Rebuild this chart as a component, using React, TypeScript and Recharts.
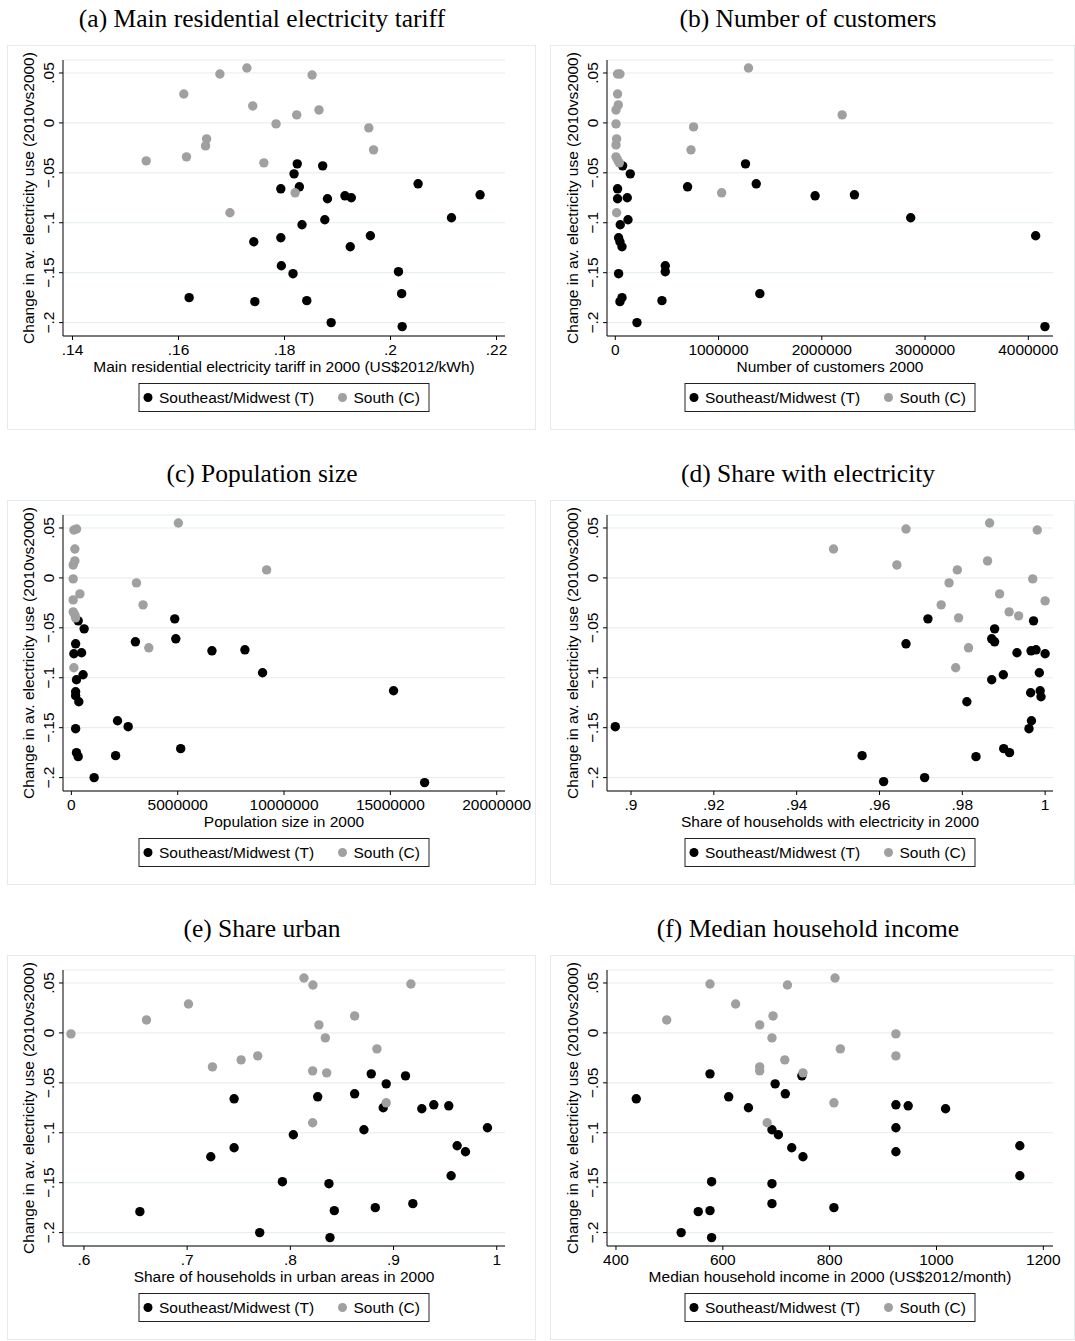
import React from "react";
import { ScatterChart, Scatter, XAxis, YAxis, CartesianGrid } from "recharts";

type Pt = [number, number];

// shared y axis
const yTicks = [-0.2, -0.15, -0.1, -0.05, 0, 0.05];
const yDomain = [-0.2134, 0.063];
const yTitle = "Change in av. electricity use (2010vs2000)";

// (a) tariff
const tariffTicks = [0.14, 0.16, 0.18, 0.2, 0.22];
const tariffT: Pt[] = [
  [0.1824, -0.041], [0.1872, -0.043], [0.1818, -0.051], [0.1828, -0.064], [0.1793, -0.066],
  [0.2052, -0.061], [0.2169, -0.072], [0.1914, -0.073], [0.1926, -0.075], [0.1881, -0.076],
  [0.1876, -0.097], [0.2115, -0.095], [0.1833, -0.102], [0.1742, -0.119], [0.1793, -0.115],
  [0.1962, -0.113], [0.1924, -0.124], [0.1794, -0.143], [0.1816, -0.151], [0.2015, -0.149],
  [0.2021, -0.171], [0.162, -0.175], [0.1744, -0.179], [0.1842, -0.178], [0.1888, -0.2],
  [0.2022, -0.204],
];
const tariffC: Pt[] = [
  [0.1729, 0.055], [0.1678, 0.049], [0.1852, 0.048], [0.161, 0.029], [0.174, 0.017],
  [0.1865, 0.013], [0.1823, 0.008], [0.1784, -0.001], [0.1959, -0.005], [0.1653, -0.016],
  [0.1651, -0.023], [0.1968, -0.027], [0.1615, -0.034], [0.1539, -0.038], [0.1761, -0.04],
  [0.182, -0.07], [0.1697, -0.09],
];

// (b) customers
const customerTicks = [0, 1000000, 2000000, 3000000, 4000000];
const customersT: Pt[] = [
  [71000, -0.043], [145000, -0.051], [1261000, -0.041], [22000, -0.066], [700000, -0.064],
  [1365000, -0.061], [1935000, -0.073], [2316000, -0.072], [22000, -0.076], [116000, -0.075],
  [123000, -0.097], [2861000, -0.095], [48000, -0.102], [32000, -0.115], [45000, -0.119],
  [65000, -0.124], [4071000, -0.113], [484000, -0.143], [484000, -0.149], [32000, -0.151],
  [1400000, -0.171], [65000, -0.175], [45000, -0.179], [452000, -0.178], [210000, -0.2],
  [4161000, -0.204],
];
const customersC: Pt[] = [
  [1290000, 0.055], [22000, 0.049], [45000, 0.049], [22000, 0.029], [29000, 0.018],
  [7000, 0.013], [7000, -0.001], [13000, -0.016], [2197000, 0.008], [758000, -0.004],
  [733000, -0.027], [7000, -0.022], [7000, -0.034], [22000, -0.037], [39000, -0.04],
  [1030000, -0.07], [13000, -0.09],
];

// (c) population
const populationTicks = [0, 5000000, 10000000, 15000000, 20000000];
const populationT: Pt[] = [
  [320000, -0.043], [600000, -0.051], [4860000, -0.041], [200000, -0.066], [3010000, -0.064],
  [4910000, -0.061], [6610000, -0.073], [8160000, -0.072], [117000, -0.076], [480000, -0.075],
  [550000, -0.097], [8990000, -0.095], [240000, -0.102], [200000, -0.114], [200000, -0.118],
  [350000, -0.124], [15150000, -0.113], [2170000, -0.143], [2670000, -0.149], [200000, -0.151],
  [5140000, -0.171], [240000, -0.175], [320000, -0.179], [2080000, -0.178], [1070000, -0.2],
  [16610000, -0.205],
];
const populationC: Pt[] = [
  [5030000, 0.055], [117000, 0.048], [244000, 0.049], [164000, 0.029], [164000, 0.017],
  [85000, 0.013], [85000, -0.001], [400000, -0.016], [9180000, 0.008], [3060000, -0.005],
  [3370000, -0.027], [85000, -0.022], [85000, -0.034], [164000, -0.037], [197000, -0.04],
  [3640000, -0.07], [117000, -0.09],
];

// (d) share with electricity
const electricityTicks = [0.9, 0.92, 0.94, 0.96, 0.98, 1];
const electricityT: Pt[] = [
  [0.9717, -0.041], [0.9664, -0.066], [0.9972, -0.043], [0.9878, -0.051], [0.9871, -0.061],
  [0.9878, -0.064], [0.9932, -0.075], [0.9966, -0.073], [0.9978, -0.072], [1.0, -0.076],
  [0.9986, -0.095], [0.9899, -0.097], [0.9871, -0.102], [0.9965, -0.115], [0.9988, -0.113],
  [0.999, -0.119], [0.9811, -0.124], [0.9967, -0.143], [0.9961, -0.151], [0.8962, -0.149],
  [0.99, -0.171], [0.9914, -0.175], [0.9558, -0.178], [0.9833, -0.179], [0.9709, -0.2],
  [0.961, -0.204],
];
const electricityC: Pt[] = [
  [0.9866, 0.055], [0.9664, 0.049], [0.9981, 0.048], [0.9489, 0.029], [0.9642, 0.013],
  [0.9861, 0.017], [0.9788, 0.008], [0.9768, -0.005], [0.997, -0.001], [0.989, -0.016],
  [1.0, -0.023], [0.9749, -0.027], [0.9913, -0.034], [0.9936, -0.038], [0.9791, -0.04],
  [0.9815, -0.07], [0.9784, -0.09],
];

// (e) share urban
const urbanTicks = [0.6, 0.7, 0.8, 0.9, 1];
const urbanT: Pt[] = [
  [0.8784, -0.041], [0.9116, -0.043], [0.8929, -0.051], [0.8623, -0.061], [0.8265, -0.064],
  [0.7455, -0.066], [0.939, -0.072], [0.9535, -0.073], [0.89, -0.075], [0.9274, -0.076],
  [0.8713, -0.097], [0.991, -0.095], [0.8029, -0.102], [0.7455, -0.115], [0.9616, -0.113],
  [0.9697, -0.119], [0.7229, -0.124], [0.9558, -0.143], [0.7923, -0.149], [0.8374, -0.151],
  [0.9187, -0.171], [0.8823, -0.175], [0.6542, -0.179], [0.8426, -0.178], [0.7703, -0.2],
  [0.8384, -0.205],
];
const urbanC: Pt[] = [
  [0.8132, 0.055], [0.8219, 0.048], [0.9168, 0.049], [0.7013, 0.029], [0.6606, 0.013],
  [0.8623, 0.017], [0.8277, 0.008], [0.5874, -0.001], [0.8339, -0.005], [0.8839, -0.016],
  [0.7684, -0.023], [0.7523, -0.027], [0.7245, -0.034], [0.8216, -0.038], [0.8352, -0.04],
  [0.8929, -0.07], [0.8216, -0.09],
];

// (f) median household income
const incomeTicks = [400, 600, 800, 1000, 1200];
const incomeT: Pt[] = [
  [576, -0.041], [748, -0.043], [698, -0.051], [717, -0.061], [611, -0.064],
  [438, -0.066], [924, -0.072], [947, -0.073], [648, -0.075], [1017, -0.076],
  [924, -0.095], [692, -0.097], [704, -0.102], [729, -0.115], [1156, -0.113],
  [924, -0.119], [750, -0.124], [1156, -0.143], [579, -0.149], [692, -0.151],
  [692, -0.171], [808, -0.175], [554, -0.179], [576, -0.178], [522, -0.2],
  [579, -0.205],
];
const incomeC: Pt[] = [
  [810, 0.055], [576, 0.049], [721, 0.048], [624, 0.029], [495, 0.013],
  [694, 0.017], [669, 0.008], [924, -0.001], [692, -0.005], [820, -0.016],
  [924, -0.023], [716, -0.027], [669, -0.034], [669, -0.038], [750, -0.04],
  [808, -0.07], [683, -0.09],
];

const SANS = "'Liberation Sans', Arial, Helvetica, sans-serif";
const SERIF = "'Liberation Serif', 'Times New Roman', serif";
const FS = 15.5;
const T_COLOR = "#000000";
const C_COLOR = "#a0a0a0";

const fmt = (v: number) => {
  if (v === 0) return "0";
  const s = String(Math.abs(v)).replace(/^0\./, ".");
  return v < 0 ? "\u2212" + s : s;
};

const XTick = (p: any) => (
  <text x={p.x} y={p.y + 13} textAnchor="middle" fontFamily={SANS} fontSize={FS} fill="#000">
    {fmt(p.payload.value)}
  </text>
);

const YTick = (p: any) => (
  <text
    transform={`translate(${p.x - 3},${p.y}) rotate(-90)`}
    textAnchor="middle"
    fontFamily={SANS}
    fontSize={FS}
    fill="#000"
  >
    {fmt(p.payload.value)}
  </text>
);

const dot = (fill: string) => (p: any) => <circle cx={p.cx} cy={p.cy} r={4.7} fill={fill} />;

interface PanelProps {
  col: number;
  row: number;
  title: string;
  xTitle: string;
  xTicks: number[];
  xDomain: number[];
  tData: Pt[];
  cData: Pt[];
}

function Panel({ col, row, title, xTitle, xTicks, xDomain, tData, cData }: PanelProps) {
  const W = 535;
  const H = 430;
  const left = col === 0 ? 0 : 540;
  const top = row * 455;
  const plotL = col === 0 ? 63 : 67;
  const plotR = col === 0 ? 505 : 513;
  const plotT = 60;
  const plotB = 336;
  const cx = (plotL + plotR) / 2;
  const cy = (plotT + plotB) / 2;
  const titleX = col === 0 ? 262 : 268;
  const tPts = tData.map(([x, y]) => ({ x, y }));
  const cPts = cData.map(([x, y]) => ({ x, y }));

  return (
    <div style={{ position: "absolute", left, top, width: W, height: H }}>
      <div
        style={{
          position: "absolute",
          left: col === 0 ? 7 : 10,
          top: 45,
          width: col === 0 ? 529 : 525,
          height: 385,
          border: "1px solid #e4ebeb",
          boxSizing: "border-box",
        }}
      />
      <div style={{ position: "absolute", left: 0, top: 0, width: W, height: H }}>
        <ScatterChart
          width={W}
          height={H}
          margin={{ top: plotT, right: W - plotR, bottom: H - plotB - 30, left: plotL - 50 }}
        >
          <CartesianGrid horizontal vertical={false} stroke="#e3ecee" />
          <XAxis
            type="number"
            dataKey="x"
            domain={xDomain}
            ticks={xTicks}
            interval={0}
            allowDataOverflow
            height={30}
            tickSize={4}
            tick={XTick}
            axisLine={{ stroke: "#000" }}
            tickLine={{ stroke: "#000" }}
          />
          <YAxis
            type="number"
            dataKey="y"
            domain={yDomain}
            ticks={yTicks}
            interval={0}
            allowDataOverflow
            width={50}
            tickSize={4}
            tick={YTick}
            axisLine={{ stroke: "#000" }}
            tickLine={{ stroke: "#000" }}
          />
          <Scatter name="Southeast/Midwest (T)" data={tPts} fill={T_COLOR} shape={dot(T_COLOR)} isAnimationActive={false} />
          <Scatter name="South (C)" data={cPts} fill={C_COLOR} shape={dot(C_COLOR)} isAnimationActive={false} />
        </ScatterChart>
      </div>
      <svg width={W} height={H} style={{ position: "absolute", left: 0, top: 0, pointerEvents: "none" }}>
        <text x={titleX} y={27} textAnchor="middle" fontFamily={SERIF} fontSize={25.5} fill="#000">
          {title}
        </text>
        <text x={cx} y={372} textAnchor="middle" fontFamily={SANS} fontSize={FS} fill="#000">
          {xTitle}
        </text>
        <text
          transform={`translate(${plotL - 29},${cy}) rotate(-90)`}
          textAnchor="middle"
          fontFamily={SANS}
          fontSize={FS}
          fill="#000"
        >
          {yTitle}
        </text>
        <rect x={cx - 145} y={383.5} width={290} height={28} fill="#fff" stroke="#222" strokeWidth={1} />
        <circle cx={cx - 136} cy={397.5} r={4.5} fill={T_COLOR} />
        <text x={cx - 125} y={402.5} fontFamily={SANS} fontSize={FS} fill="#000">
          Southeast/Midwest (T)
        </text>
        <circle cx={cx + 58.5} cy={397.5} r={4.5} fill={C_COLOR} />
        <text x={cx + 69.5} y={402.5} fontFamily={SANS} fontSize={FS} fill="#000">
          South (C)
        </text>
      </svg>
    </div>
  );
}

export default function App() {
  return (
    <div style={{ position: "absolute", left: 0, top: 0, width: 1075, height: 1341, background: "#fff" }}>
      <Panel col={0} row={0} title="(a) Main residential electricity tariff"
        xTitle="Main residential electricity tariff in 2000 (US$2012/kWh)"
        xTicks={tariffTicks} xDomain={[0.1382, 0.2216]} tData={tariffT} cData={tariffC} />
      <Panel col={1} row={0} title="(b) Number of customers"
        xTitle="Number of customers 2000"
        xTicks={customerTicks} xDomain={[-80300, 4239000]} tData={customersT} cData={customersC} />
      <Panel col={0} row={1} title="(c) Population size"
        xTitle="Population size in 2000"
        xTicks={populationTicks} xDomain={[-394000, 20390000]} tData={populationT} cData={populationC} />
      <Panel col={1} row={1} title="(d) Share with electricity"
        xTitle="Share of households with electricity in 2000"
        xTicks={electricityTicks} xDomain={[0.8942, 1.0019]} tData={electricityT} cData={electricityC} />
      <Panel col={0} row={2} title="(e) Share urban"
        xTitle="Share of households in urban areas in 2000"
        xTicks={urbanTicks} xDomain={[0.5797, 1.008]} tData={urbanT} cData={urbanC} />
      <Panel col={1} row={2} title="(f) Median household income"
        xTitle="Median household income in 2000 (US$2012/month)"
        xTicks={incomeTicks} xDomain={[383.2, 1218.1]} tData={incomeT} cData={incomeC} />
    </div>
  );
}
